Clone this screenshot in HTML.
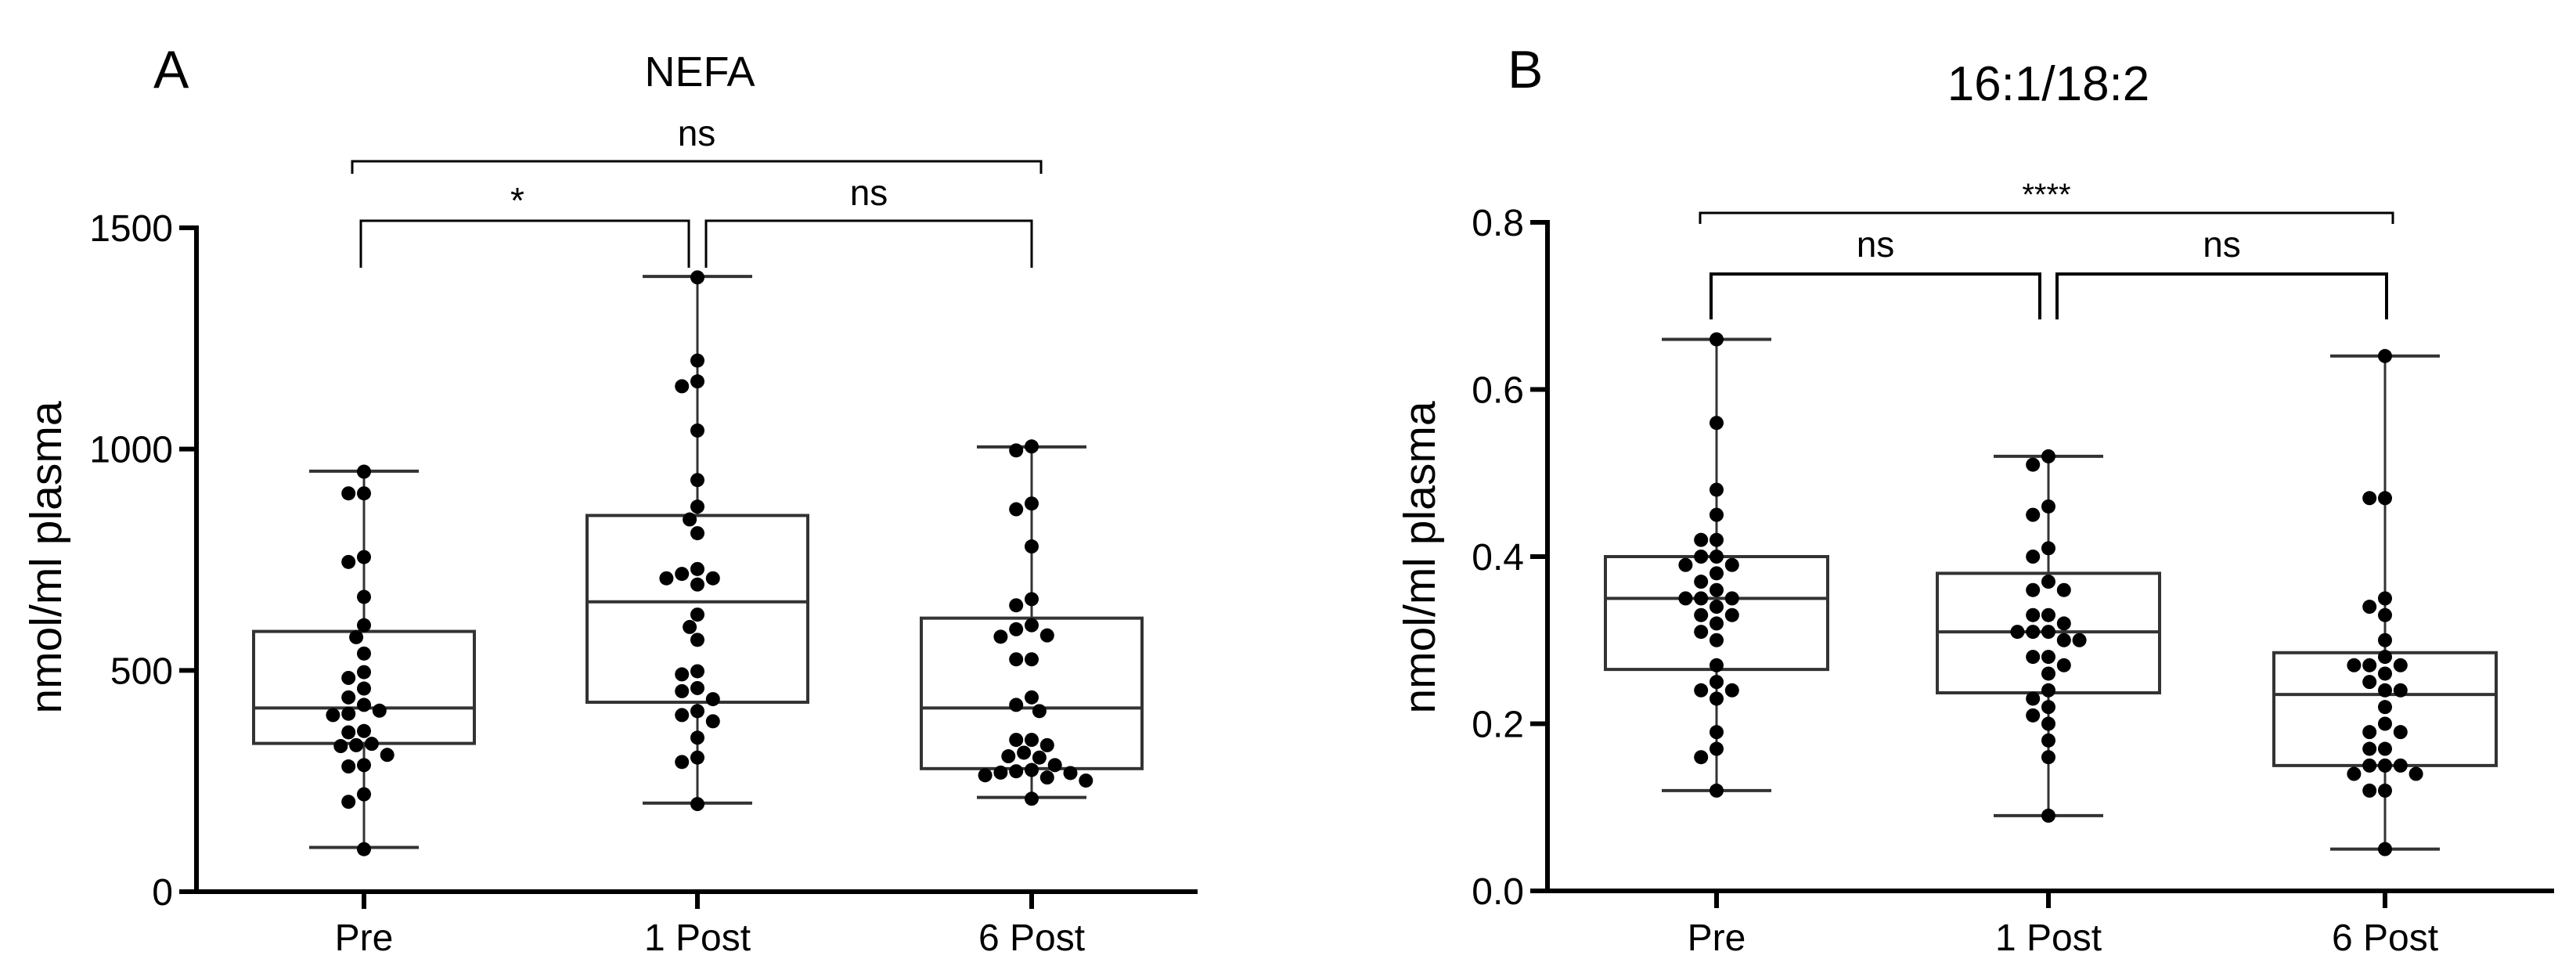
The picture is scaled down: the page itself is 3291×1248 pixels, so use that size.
<!DOCTYPE html>
<html><head><meta charset="utf-8"><style>
html,body{margin:0;padding:0;background:#fff;}
svg{display:block;}
text{font-family:"Liberation Sans Narrow","Liberation Sans",sans-serif;fill:#000;}
</style></head><body>
<svg id="chart" width="3291" height="1248" viewBox="0 0 3291 1248" xmlns="http://www.w3.org/2000/svg">
<text x="196" y="112" font-size="68">A</text>
<text x="894" y="110" font-size="54" text-anchor="middle" style="font-family:'Liberation Sans',sans-serif">NEFA</text>
<text x="1926" y="112" font-size="68">B</text>
<text x="2617" y="128" font-size="62" text-anchor="middle">16:1/18:2</text>
<text transform="translate(78,712) rotate(-90)" font-size="57" text-anchor="middle" style="font-family:'Liberation Sans',sans-serif">nmol/ml plasma</text>
<text transform="translate(1833,712) rotate(-90)" font-size="57" text-anchor="middle" style="font-family:'Liberation Sans',sans-serif">nmol/ml plasma</text>
<g id="pa"></g>
<g id="pb"></g>
</svg>
<script>
const categories = ["Pre", "1 Post", "6 Post"];
const aTicks = [0, 500, 1000, 1500];
const aTickLabels = ["0", "500", "1000", "1500"];
const aBoxes = [[100, 335, 415, 588, 950], [200, 428, 655, 850, 1390], [213, 278, 415, 618, 1005]];
const aPre = [949,900,900,756,745,666,602,575,538,496,483,459,439,422,409,402,399,363,360,334,331,329,309,286,283,220,203,96];
const a1Post = [1388,1200,1153,1142,1042,930,870,841,810,729,718,708,708,694,626,598,569,498,491,460,453,435,408,399,385,348,303,293,198];
const a6Post = [1006,997,877,864,780,661,647,602,593,579,576,525,525,439,422,408,343,343,331,314,306,303,286,275,272,269,268,263,258,251,210];
const bTicks = [0, 0.2, 0.4, 0.6, 0.8];
const bTickLabels = ["0.0", "0.2", "0.4", "0.6", "0.8"];
const bBoxes = [[0.12, 0.265, 0.35, 0.40, 0.66], [0.09, 0.237, 0.31, 0.38, 0.52], [0.05, 0.15, 0.235, 0.285, 0.64]];
const bPre = [.66,.56,.48,.45,.42,.42,.40,.40,.39,.39,.38,.37,.36,.35,.35,.35,.34,.33,.33,.32,.31,.30,.27,.25,.24,.24,.23,.19,.17,.16,.12];
const b1Post = [.52,.51,.46,.45,.41,.40,.37,.36,.36,.33,.33,.32,.31,.31,.31,.30,.30,.28,.28,.27,.26,.24,.23,.22,.21,.20,.18,.16,.09];
const b6Post = [.64,.47,.47,.35,.34,.33,.30,.28,.27,.27,.27,.26,.25,.24,.24,.22,.20,.19,.19,.17,.17,.15,.15,.15,.14,.14,.12,.12,.05];
const aSig = ["*", "ns", "ns"];
const bSig = ["ns", "ns", "****"];

const NS = "http://www.w3.org/2000/svg";
function mk(parent, tag, attrs){const e=document.createElementNS(NS,tag);for(const k in attrs)e.setAttribute(k,attrs[k]);parent.appendChild(e);return e;}

function drawPanel(gid, cfg){
  const g = document.getElementById(gid);
  const yS = v => cfg.y0 - (v - cfg.ymin)/(cfg.ymax - cfg.ymin)*(cfg.y0 - cfg.y1);
  const xS = i => cfg.cx[i];
  let e = mk(g,'line',{x1:cfg.ax,y1:yS(cfg.ymax)-3,x2:cfg.ax,y2:cfg.y0+3,stroke:'#000','stroke-width':6});
   
  e = mk(g,'line',{x1:cfg.ax-22,y1:cfg.y0,x2:cfg.axEnd,y2:cfg.y0,stroke:'#000','stroke-width':6});
   
  cfg.ticks.forEach((t,i)=>{
    const y=yS(t);
    let l=mk(g,'line',{x1:cfg.ax-22,y1:y,x2:cfg.ax,y2:y,stroke:'#000','stroke-width':6});
     
    let tx=mk(g,'text',{x:cfg.ax-30,y:y+17,'font-size':48,'text-anchor':'end'});
    tx.textContent=cfg.tickLabels[i];
     
  });
  categories.forEach((c,i)=>{
    const x=xS(i);
    let l=mk(g,'line',{x1:x,y1:cfg.y0,x2:x,y2:cfg.y0+22,stroke:'#000','stroke-width':6});
     
    let tx=mk(g,'text',{x:x,y:1214,'font-size':48,'text-anchor':'middle'});
    tx.textContent=c;
     
    const b=cfg.boxes[i];
    const bw=cfg.boxW, cw=cfg.capW;
    let w=mk(g,'line',{x1:x,y1:yS(b[0]),x2:x,y2:yS(b[4]),stroke:'#333','stroke-width':3});
     
    [b[0],b[4]].forEach(v=>{
      let cp=mk(g,'line',{x1:x-cw/2,y1:yS(v),x2:x+cw/2,y2:yS(v),stroke:'#333','stroke-width':4});
       
    });
    let r=mk(g,'rect',{x:x-bw/2,y:yS(b[3]),width:bw,height:yS(b[1])-yS(b[3]),fill:'#fff',stroke:'#333','stroke-width':4});
     
    let m=mk(g,'line',{x1:x-bw/2,y1:yS(b[2]),x2:x+bw/2,y2:yS(b[2]),stroke:'#333','stroke-width':4});
     
    const rad=9, placed=[];
    cfg.points[i].forEach(v=>{
      const y=yS(v); let off=0;
      const cands=[0];
      for(let k=1;k<12;k++){cands.push(-k*rad*1.1, k*rad*1.1);}
      for(const o of cands){
        if(placed.every(p=>Math.hypot(p[0]-o,p[1]-y)>=2*rad)){off=o;break;}
      }
      placed.push([off,y]);
      let d=mk(g,'circle',{cx:x+off,cy:y,r:rad,fill:'#000'});
       
    });
  });
  cfg.brackets.forEach((br,k)=>{
    let p=mk(g,'path',{d:`M${br.x1},${br.yb} L${br.x1},${br.y} L${br.x2},${br.y} L${br.x2},${br.yb}`,fill:'none',stroke:'#000','stroke-width':br.sw});
     
    let t=mk(g,'text',{x:(br.tx!==undefined?br.tx:(br.x1+br.x2)/2),y:br.ty,'font-size':br.fs||46,'text-anchor':'middle'});
    t.textContent=cfg.sig[k];
     
  });
}

drawPanel('pa',{y0:1139,y1:291,ymin:0,ymax:1500,ax:251,axEnd:1530,cx:[465,891,1318],
  ticks:aTicks,tickLabels:aTickLabels,boxes:aBoxes,points:[aPre,a1Post,a6Post],boxW:282,capW:140,sig:aSig,
  brackets:[{x1:461,x2:880,y:282,yb:342,sw:3,ty:272,tx:661},{x1:902,x2:1318,y:282,yb:342,sw:3,ty:262},{x1:450,x2:1330,y:206,yb:222,sw:3,ty:186}]});
drawPanel('pb',{y0:1138,y1:284,ymin:0,ymax:0.8,ax:1977,axEnd:3263,cx:[2193,2617,3047],
  ticks:bTicks,tickLabels:bTickLabels,boxes:bBoxes,points:[bPre,b1Post,b6Post],boxW:284,capW:140,sig:bSig,
  brackets:[{x1:2186,x2:2606,y:350,yb:408,sw:4,ty:328},{x1:2628,x2:3049,y:350,yb:408,sw:4,ty:328},{x1:2172,x2:3057,y:272,yb:286,sw:3,ty:262,fs:40}]});
</script>
</body></html>
